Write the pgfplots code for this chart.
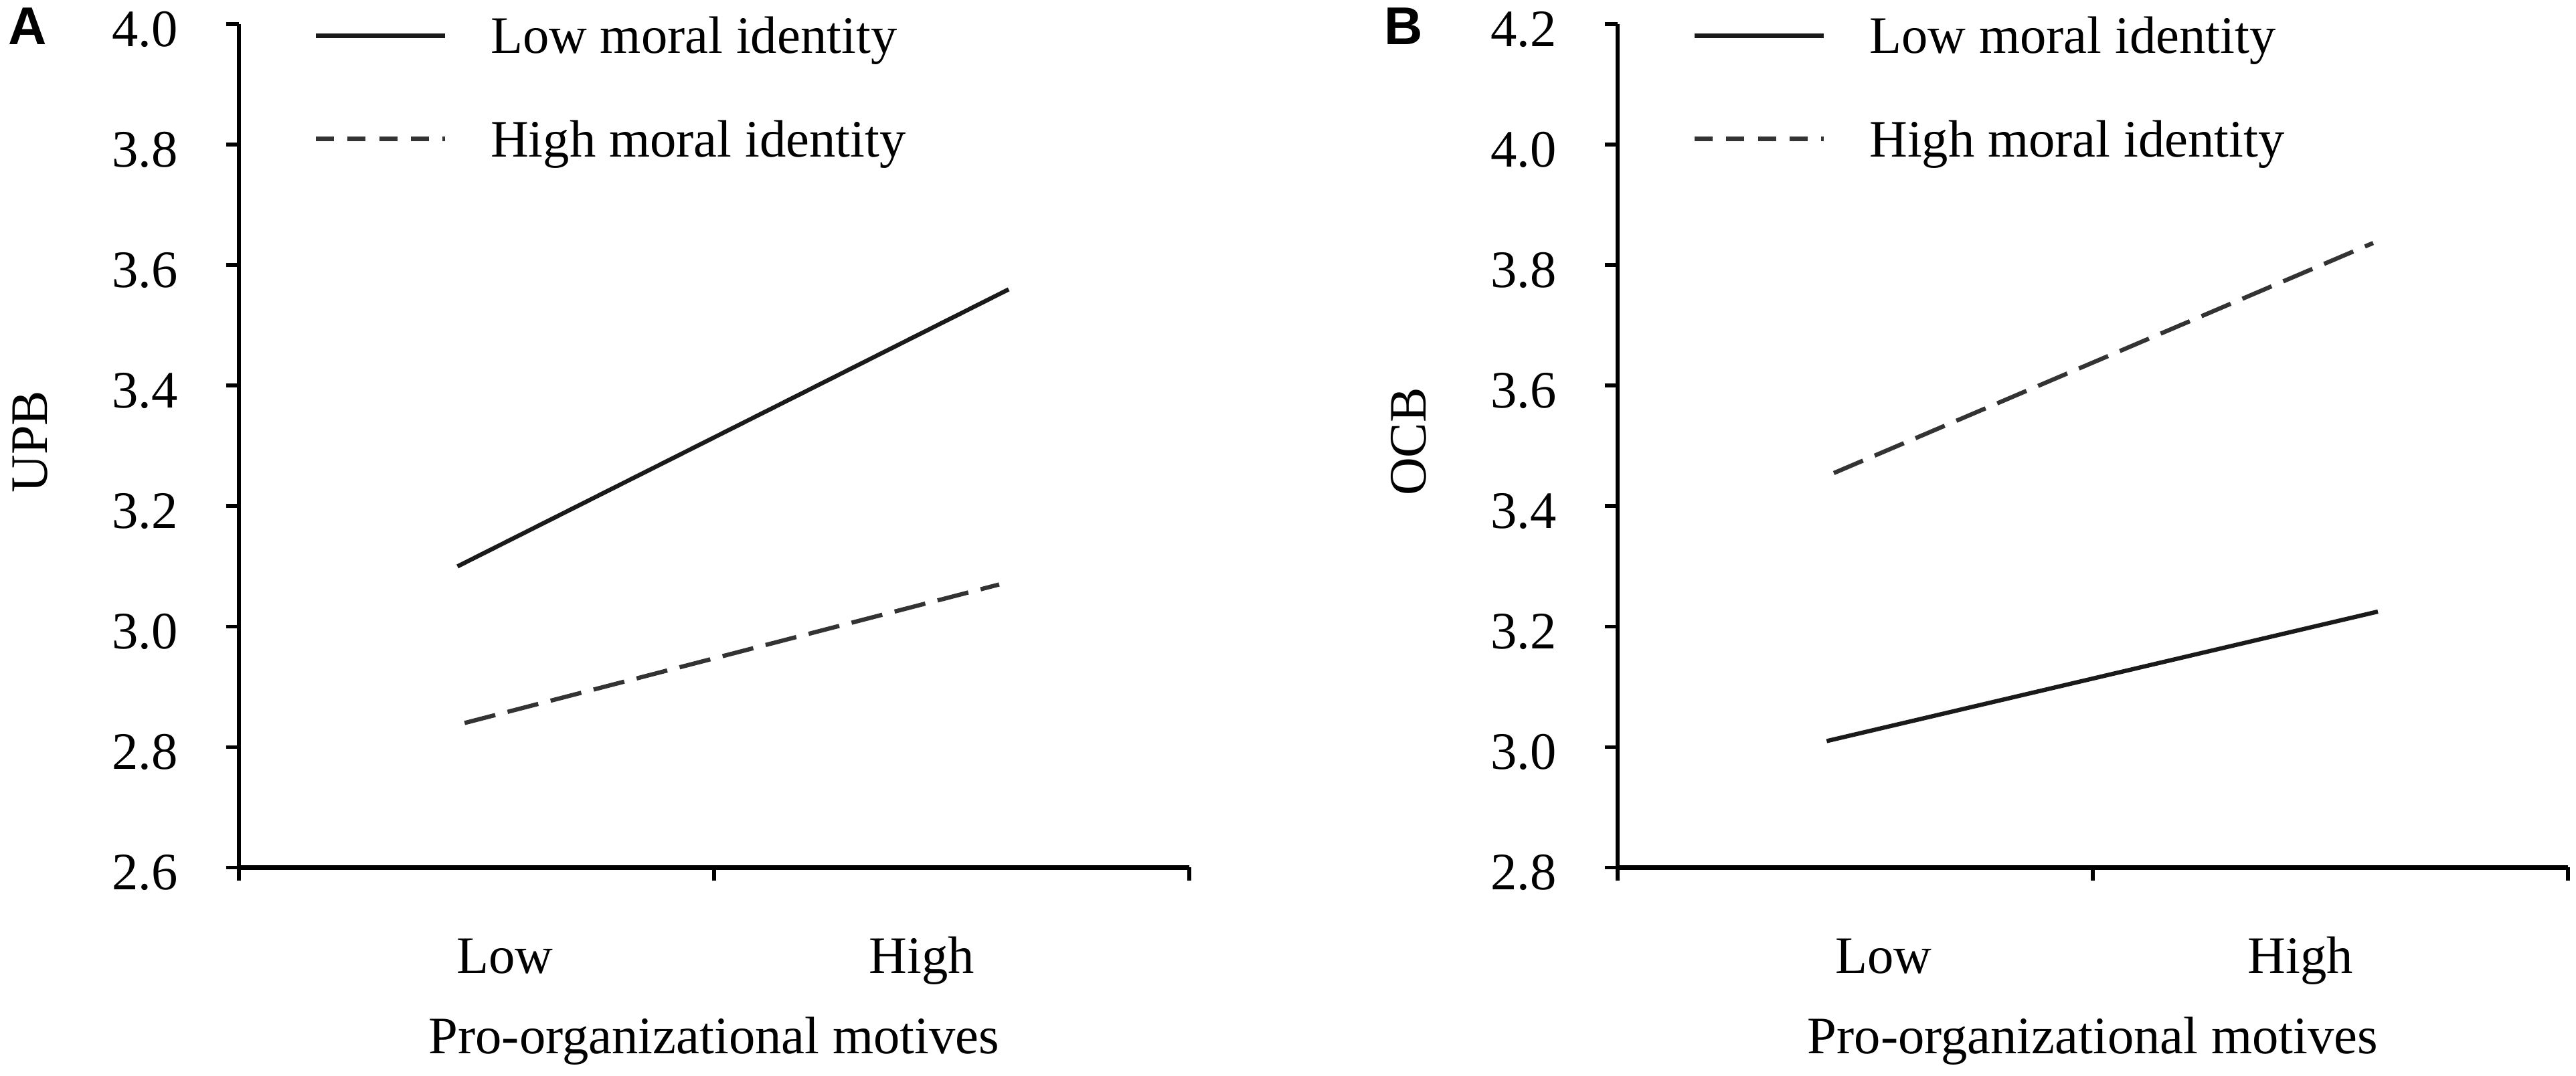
\documentclass[border=0pt]{standalone}
\usepackage{fontspec}
\setmainfont{Liberation Serif}
\setsansfont{Liberation Sans}
\usepackage{pgfplots}
\pgfplotsset{compat=1.18}
\newcommand{\fs}{\fontsize{9.3}{11}\selectfont}
\definecolor{dashc}{HTML}{333333}
\definecolor{solidc}{HTML}{1A1A1A}
\pgfplotsset{
  panel/.style={
    scale only axis, width=167.95pt, height=149.03pt,
    anchor=south west,
    xmin=0, xmax=4,
    axis x line*=bottom, axis y line*=left,
    x axis line style={line width=0.8pt},
    y axis line style={line width=0.8pt},
    every tick/.style={black, line width=0.7pt},
    tick align=inside, major tick length=2.3pt,
    every major x tick/.append style={yshift=-2.3pt},
    every major y tick/.append style={xshift=-2.3pt},
    xtick={0,2,4}, xticklabels={,,},
    extra x ticks={1.12,2.875}, extra x tick labels={Low,High},
    extra x tick style={major tick length=0pt, xticklabel style={anchor=base, inner sep=0pt, yshift=-18.7pt}},
    /pgf/number format/assume math mode=true,
    yticklabel style={anchor=east, inner sep=0pt, xshift=-10.6pt, yshift=-0.9pt, /pgf/number format/fixed, /pgf/number format/fixed zerofill, /pgf/number format/precision=1},
    tick label style={font=\fs},
    label style={font=\fs},
    xlabel={Pro-organizational motives},
    xlabel style={at={(axis description cs:0.5,0)}, anchor=base, yshift=-32.9pt, inner sep=0pt},
    ylabel style={at={(axis description cs:-0.2197,0.505)}, anchor=center, inner sep=0pt},
    legend style={at={(axis description cs:0,1)}, anchor=north west, xshift=10pt, yshift=3.5pt, draw=none, fill=none, font=\fs, row sep=10.3pt, nodes={inner sep=0pt}, /tikz/every odd column/.append style={column sep=7.7pt}},
    legend cell align=left,
    legend image code/.code={\draw[#1, line width=0.8pt] (0pt,0.7pt) -- (22.8pt,0.7pt);},
  },
  solidline/.style={solidc, line width=0.75pt},
  dashline/.style={dashc, line width=0.75pt, dash pattern=on 5.6pt off 2.25pt},
  dashleg/.style={legend image code/.code={\draw[dashc, line width=0.8pt, dash pattern=on 3.2pt off 2.4pt] (0pt,0.7pt) -- (22.8pt,0.7pt);}},
}
\begin{document}
\begin{tikzpicture}
\path[use as bounding box] (0,0) rectangle (455.24pt,190.18pt);
\begin{axis}[panel, at={(42.22pt,36.84pt)},
  ymin=2.6, ymax=4.0, ytick={2.6,2.8,3.0,3.2,3.4,3.6,3.8,4.0},
  ylabel={UPB}]
\addplot[solidline] coordinates {(0.92,3.10) (3.24,3.56)};
\addlegendentry{Low moral identity}
\addplot[dashline, dashleg] coordinates {(0.95,2.84) (3.20,3.07)};
\addlegendentry{High moral identity}
\end{axis}
\begin{axis}[panel, at={(285.87pt,36.84pt)},
  ymin=2.8, ymax=4.2, ytick={2.8,3.0,3.2,3.4,3.6,3.8,4.0,4.2},
  ylabel={OCB}]
\addplot[solidline] coordinates {(0.88,3.01) (3.20,3.225)};
\addlegendentry{Low moral identity}
\addplot[dashline, dashleg] coordinates {(0.91,3.455) (3.18,3.837)};
\addlegendentry{High moral identity}
\end{axis}
\node[anchor=north west, inner sep=0pt, font=\sffamily\bfseries\fontsize{9.4}{11}\selectfont] at (1.3pt,189.0pt) {A};
\node[anchor=north west, inner sep=0pt, font=\sffamily\bfseries\fontsize{9.4}{11}\selectfont] at (244.5pt,189.0pt) {B};
\end{tikzpicture}
\end{document}
